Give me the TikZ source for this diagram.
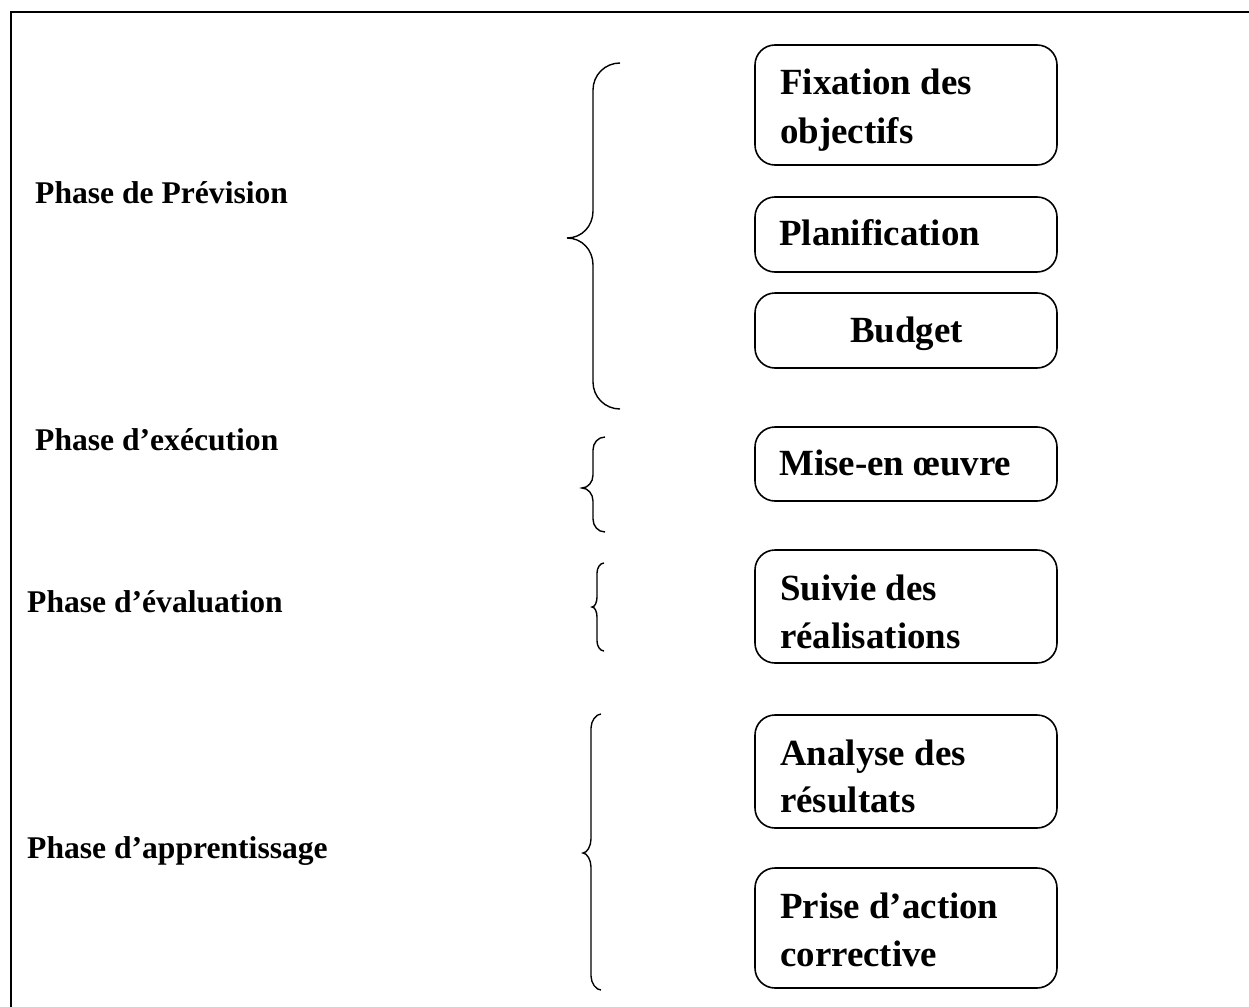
\documentclass[tikz,border=0pt]{standalone}
\usepackage{fontspec}
\setmainfont{Liberation Serif}
\begin{document}
\begin{tikzpicture}[x=1pt,y=-1pt,
  phaselbl/.style={anchor=base west,inner sep=0pt,font=\fontsize{31.6}{38}\selectfont\bfseries},
  boxtxt/.style={anchor=base west,inner sep=0pt,font=\fontsize{36.9}{48}\selectfont\bfseries},
  stagebox/.style={draw,line width=1.6pt,rounded corners=20pt,minimum width=302pt,inner sep=0pt},
  bracepath/.style={draw,line width=1.4pt},
  framepath/.style={draw,line width=2.2pt}]
\useasboundingbox (0,0) rectangle (1249,1006);
% frame
\path[framepath] (11,1010) -- (11,12) -- (1252,12);
% labels
\node[phaselbl] (l1) at (35,203) {Phase de Prévision};
\node[phaselbl] (l2) at (35,450) {Phase d’exécution};
\node[phaselbl] (l3) at (27,612) {Phase d’évaluation};
\node[phaselbl] (l4) at (27,858) {Phase d’apprentissage};
% boxes
\node[stagebox,minimum height=120pt] (b1) at (906,105) {};
\node[stagebox,minimum height=75pt] (b2) at (906,234.5) {};
\node[stagebox,minimum height=75pt] (b3) at (906,330.5) {};
\node[stagebox,minimum height=74pt] (b4) at (906,464) {};
\node[stagebox,minimum height=113pt] (b5) at (906,606.5) {};
\node[stagebox,minimum height=113pt] (b6) at (906,771.5) {};
\node[stagebox,minimum height=120pt] (b7) at (906,928) {};
% box texts
\node[boxtxt] (t1a) at (780,95) {Fixation des};
\node[boxtxt] (t1b) at (780,143) {objectifs};
\node[boxtxt] (t2) at (779,245) {Planification};
\node[boxtxt] (t3) at (850,342) {Budget};
\node[boxtxt] (t4) at (779,475) {Mise-en œuvre};
\node[boxtxt] (t5a) at (780,600) {Suivie des};
\node[boxtxt] (t5b) at (780,648) {réalisations};
\node[boxtxt] (t6a) at (780,765) {Analyse des};
\node[boxtxt] (t6b) at (780,812) {résultats};
\node[boxtxt] (t7a) at (780,918) {Prise d’action};
\node[boxtxt] (t7b) at (780,966) {corrective};
% braces
\path[bracepath] (620,63) .. controls (605,63) and (593,75) .. (593,90) -- (593,211)
  .. controls (593,226) and (582,238) .. (567,238) .. controls (582,238) and (593,250) .. (593,265)
  -- (593,382) .. controls (593,397) and (605,409) .. (620,409);
\path[bracepath] (605,437) .. controls (598,437) and (593,443) .. (593,450) -- (593,475)
  .. controls (593,482) and (588,488) .. (582,488) .. controls (588,488) and (593,494) .. (593,501)
  -- (593,519) .. controls (593,526) and (598,532) .. (605,532);
\path[bracepath] (604,563) .. controls (600,563) and (597,568) .. (597,573) -- (597,597)
  .. controls (597,602) and (595,607) .. (592,607) .. controls (595,607) and (597,612) .. (597,617)
  -- (597,641) .. controls (597,646) and (600,651) .. (604,651);
\path[bracepath] (601,714) .. controls (596,714) and (591,721) .. (591,728) -- (591,839)
  .. controls (591,846) and (587,853) .. (583,853) .. controls (587,853) and (591,860) .. (591,867)
  -- (591,976) .. controls (591,983) and (596,990) .. (601,990);
\end{tikzpicture}
\end{document}
